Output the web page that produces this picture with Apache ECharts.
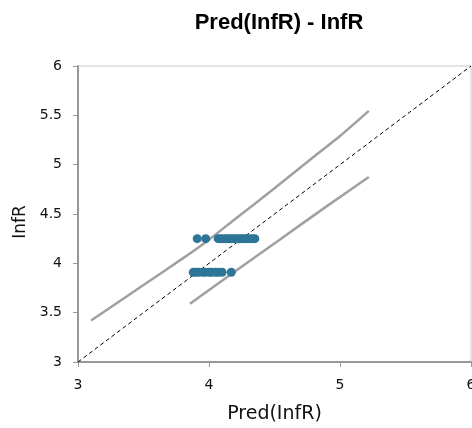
<!DOCTYPE html>
<html><head><meta charset="utf-8">
<script src="https://cdn.jsdelivr.net/npm/echarts@6/dist/echarts.min.js"></script>
<style>html,body{margin:0;padding:0;background:#fff}#c{width:472px;height:428px}</style>
</head><body><div id="c"></div>
<script>
const title = "Pred(InfR) - InfR";
const xName = "Pred(InfR)";
const yName = "InfR";
const upperRowX = [3.91,3.975,4.07,4.09,4.11,4.13,4.15,4.17,4.19,4.21,4.23,4.25,4.27,4.29,4.31,4.33,4.35];
const upperRowY = 4.25;
const lowerRowX = [3.88,3.90,3.92,3.95,3.97,4.00,4.02,4.05,4.07,4.10,4.17];
const lowerRowY = 3.91;
const upperBandX = [3.10,3.50,3.80,4.00,4.20,4.50,4.80,5.00,5.22];
const upperBandY = [3.42,3.78,4.05,4.24,4.45,4.76,5.08,5.29,5.545];
const lowerBandX = [3.855,4.20,4.55,4.90,5.22];
const lowerBandY = [3.59,3.92,4.25,4.58,4.875];
const diagX = [3,6];
const diagY = [3,6];

const pts = upperRowX.map(x=>[x,upperRowY]).concat(lowerRowX.map(x=>[x,lowerRowY]));
const zip=(a,b)=>a.map((v,i)=>[v,b[i]]);
const F = 'Liberation Sans, Arial, sans-serif';
const D = 'DejaVu Sans, Verdana, sans-serif';
const chart = echarts.init(document.getElementById('c'), null, {renderer:'canvas'});
chart.setOption({
  animation:false,
  title:{text:title,left:274,textAlign:'center',top:7,textStyle:{fontFamily:F,fontSize:22,fontWeight:'bold',color:'#000'}},
  grid:{left:78,right:1,top:66,bottom:66,show:true,borderColor:'#c8c8c8',borderWidth:1,outerBoundsMode:'none',containLabel:false},
  xAxis:{type:'value',min:3,max:6,interval:1,name:xName,nameLocation:'middle',nameGap:43,
    nameTextStyle:{fontFamily:D,fontSize:19,color:'#111'},
    axisLine:{lineStyle:{color:'#999',width:2}},axisTick:{show:true,length:5,lineStyle:{color:'#999'}},
    axisLabel:{fontFamily:D,fontSize:14,color:'#111',margin:16},splitLine:{show:false}},
  yAxis:{type:'value',min:3,max:6,interval:0.5,name:yName,nameLocation:'middle',nameGap:44,
    nameTextStyle:{fontFamily:D,fontSize:17,color:'#111',padding:[0,16,0,0]},
    axisLine:{show:true,lineStyle:{color:'#999',width:2}},axisTick:{show:true,length:5,lineStyle:{color:'#999'}},
    axisLabel:{fontFamily:D,fontSize:14,color:'#111',margin:16},splitLine:{show:false}},
  series:[
    {type:'line',data:zip(diagX,diagY),showSymbol:false,lineStyle:{color:'#000',width:1,type:[4,3]},z:2},
    {type:'line',data:zip(upperBandX,upperBandY),showSymbol:false,smooth:0.2,lineStyle:{color:'#a0a0a0',width:2.5},z:3},
    {type:'line',data:zip(lowerBandX,lowerBandY),showSymbol:false,smooth:0.2,lineStyle:{color:'#a0a0a0',width:2.5},z:3},
    {type:'scatter',data:pts,symbolSize:9,itemStyle:{color:'#2e7598',opacity:1},z:5}
  ]
});
</script></body></html>
